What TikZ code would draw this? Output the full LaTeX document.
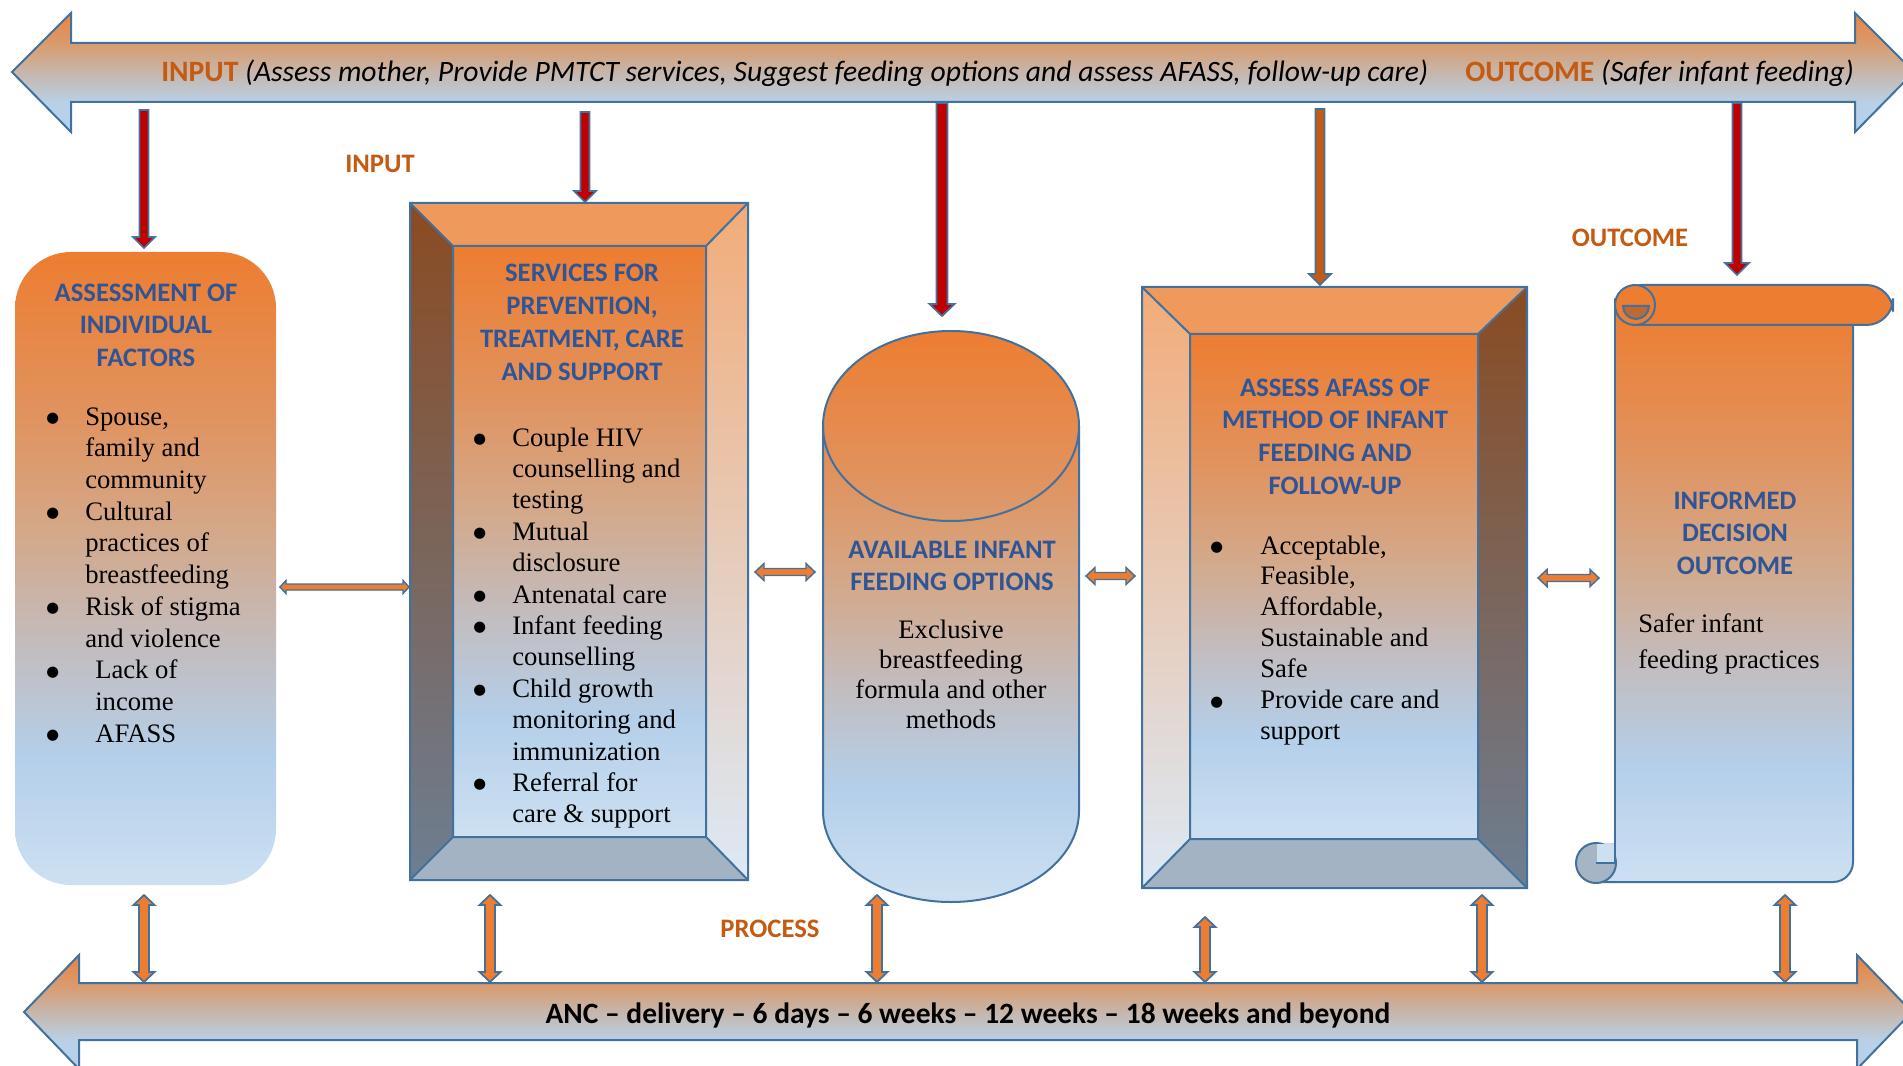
\documentclass[tikz,border=0pt]{standalone}
\usepackage{fontspec}
\setmainfont{Liberation Serif}
\newfontfamily\calfont{Carlito}
\newfontfamily\dvfont{DejaVu Sans}
\usetikzlibrary{calc}
\definecolor{ol}{HTML}{41719C}
\definecolor{ttlc}{HTML}{2F5597}
\definecolor{lblc}{HTML}{C55A11}
\definecolor{redf}{HTML}{C00000}
\definecolor{orf}{HTML}{ED7D31}
\definecolor{g0}{HTML}{CDE0F2}
\definecolor{g1}{HTML}{B4CFEA}
\definecolor{g2}{HTML}{C3BCBE}
\definecolor{g3}{HTML}{D3A98B}
\definecolor{g4}{HTML}{E1925D}
\definecolor{g5}{HTML}{ED7D31}
\definecolor{a0}{HTML}{B4D0EC}
\definecolor{a1}{HTML}{B9D1E8}
\definecolor{a2}{HTML}{C6B6AC}
\definecolor{a3}{HTML}{D99B6D}
\definecolor{a4}{HTML}{EB8240}
\definecolor{topface}{HTML}{F0995C}
\definecolor{botface}{HTML}{A3B3C4}
\definecolor{dk1}{HTML}{8A4B22}
\definecolor{dk2}{HTML}{6D7E92}
\definecolor{lt1}{HTML}{F2AC79}
\definecolor{lt2}{HTML}{DCE9F6}
\definecolor{curldark}{HTML}{BC6A35}
\definecolor{curlgrey}{HTML}{A5B5C6}
\pgfdeclareverticalshading{boxgrad}{100bp}{color(0bp)=(g0); color(25bp)=(g0); color(35bp)=(g1); color(44bp)=(g2); color(52.5bp)=(g3); color(62.5bp)=(g4); color(75bp)=(g5); color(100bp)=(g5)}
\pgfdeclareverticalshading{arrgrad}{100bp}{color(0bp)=(a0); color(25bp)=(a0); color(37bp)=(a1); color(50bp)=(a2); color(62bp)=(a3); color(75bp)=(a4); color(100bp)=(a4)}
\newcommand\ctab[1]{\begin{tabular}[t]{@{}c@{}}#1\end{tabular}}
\newcommand\ltab[1]{\begin{tabular}[t]{@{}l@{}l@{}}#1\end{tabular}}
\newcommand\bl[1]{\makebox[#1][l]{\hspace{-1.5pt}\raisebox{2pt}{\dvfont\fontsize{11}{11}\selectfont ●}}}
% down arrow: from, to, fill, shaft half width, head half width, head length (px)
\newcommand\vdn[6]{\path[draw=ol,line width=1.3pt,fill=#3] let \p1=(#1), \p2=(#2) in (\x1-#4*0.75pt,\y1) -- (\x1-#4*0.75pt,\y2+#6*0.75pt) -- (\x1-#5*0.75pt,\y2+#6*0.75pt) -- (\x1,\y2) -- (\x1+#5*0.75pt,\y2+#6*0.75pt) -- (\x1+#4*0.75pt,\y2+#6*0.75pt) -- (\x1+#4*0.75pt,\y1) -- cycle;}
\newcommand\vdbl[6]{\path[draw=ol,line width=1.3pt,fill=#3] let \p1=(#1), \p2=(#2) in (\x1,\y1) -- (\x1+#5*0.75pt,\y1-#6*0.75pt) -- (\x1+#4*0.75pt,\y1-#6*0.75pt) -- (\x1+#4*0.75pt,\y2+#6*0.75pt) -- (\x1+#5*0.75pt,\y2+#6*0.75pt) -- (\x1,\y2) -- (\x1-#5*0.75pt,\y2+#6*0.75pt) -- (\x1-#4*0.75pt,\y2+#6*0.75pt) -- (\x1-#4*0.75pt,\y1-#6*0.75pt) -- (\x1-#5*0.75pt,\y1-#6*0.75pt) -- cycle;}
\newcommand\hdbl[6]{\path[draw=ol,line width=1.1pt,fill=#3] let \p1=(#1), \p2=(#2) in (\x1,\y1) -- (\x1+#6*0.75pt,\y1+#5*0.75pt) -- (\x1+#6*0.75pt,\y1+#4*0.75pt) -- (\x2-#6*0.75pt,\y1+#4*0.75pt) -- (\x2-#6*0.75pt,\y1+#5*0.75pt) -- (\x2,\y1) -- (\x2-#6*0.75pt,\y1-#5*0.75pt) -- (\x2-#6*0.75pt,\y1-#4*0.75pt) -- (\x1+#6*0.75pt,\y1-#4*0.75pt) -- (\x1+#6*0.75pt,\y1-#5*0.75pt) -- cycle;}
\begin{document}
\begin{tikzpicture}[x=0.75pt,y=-0.75pt,
 outl/.style={draw=ol,line width=1.5pt},
 ttl/.style={font=\calfont\bfseries\fontsize{20}{24.6}\selectfont,text=ttlc,inner sep=0pt},
 lbl/.style={font=\calfont\bfseries\fontsize{20}{24}\selectfont,text=lblc,inner sep=0pt},
 grad/.style={shade,shading=boxgrad},
 agrad/.style={shade,shading=arrgrad}]
\useasboundingbox (0,0) rectangle (1903,1066);
\fill[white] (0,0) rectangle (1903,1066);

% ---------- top arrow ----------
\path[agrad,outl] (12,72) -- (71,13) -- (71,43) -- (1855,43) -- (1855,13) -- (1914,72) -- (1855,132) -- (1855,102) -- (71,102) -- (71,132) -- cycle;
\node[font=\calfont\fontsize{22.2}{26}\selectfont,inner sep=0pt,anchor=base west] (tin) at (161,82) {\textcolor{lblc}{\bfseries INPUT} \itshape (Assess mother, Provide PMTCT services, Suggest feeding options and assess AFASS, follow-up care)};
\node[font=\calfont\fontsize{22.2}{26}\selectfont,inner sep=0pt,anchor=base west] (tout) at (1465,82) {\textcolor{lblc}{\bfseries OUTCOME} \itshape (Safer infant feeding)};

% ---------- bottom arrow ----------
\path[agrad,outl] (24,1012) -- (79,955) -- (79,983) -- (1857,983) -- (1857,955) -- (1912,1012) -- (1857,1069) -- (1857,1040) -- (79,1040) -- (79,1069) -- cycle;
\node[font=\calfont\bfseries\fontsize{22.1}{26}\selectfont,inner sep=0pt,anchor=base] (tl) at (968,1023) {ANC – delivery – 6 days – 6 weeks – 12 weeks – 18 weeks and beyond};

% ---------- box 1 ----------
\path[grad,rounded corners=42] (15,252) rectangle (276,885);
\node[ttl,anchor=base] (t1) at (146,301) {\ctab{ASSESSMENT OF\\INDIVIDUAL\\FACTORS}};
\node[font=\fontsize{20}{23.8}\selectfont,inner sep=0pt,anchor=base west] (l1) at (48,425) {\ltab{\bl{27.75pt}&Spouse,\\&family and\\&community\\
\bl{27.75pt}&Cultural\\&practices of\\&breastfeeding\\
\bl{27.75pt}&Risk of stigma\\&and violence\\
\bl{27.75pt}&\hspace{7.5pt}Lack of\\&\hspace{7.5pt}income\\
\bl{27.75pt}&\hspace{7.5pt}AFASS}};

% ---------- box 2 (bevel) ----------
\fill[topface] (410,203) -- (748,203) -- (706,246) -- (453,246) -- cycle;
\shade[top color=dk1,bottom color=dk2] (410,203) -- (453,246) -- (453,837) -- (410,880) -- cycle;
\shade[top color=lt1,bottom color=lt2] (748,203) -- (748,880) -- (706,837) -- (706,246) -- cycle;
\fill[botface] (410,880) -- (453,837) -- (706,837) -- (748,880) -- cycle;
\path[grad] (453,246) rectangle (706,837);
\draw[outl] (410,203) rectangle (748,880) (453,246) rectangle (706,837) (410,203) -- (453,246) (748,203) -- (706,246) (410,880) -- (453,837) (748,880) -- (706,837);
\node[ttl,anchor=base] (t2) at (582,282) {\ctab{SERVICES FOR\\PREVENTION,\\TREATMENT, CARE\\AND SUPPORT}};
\node[font=\fontsize{20}{23.55}\selectfont,inner sep=0pt,anchor=base west] (l2) at (475,446) {\ltab{\bl{27.75pt}&Couple HIV\\&counselling and\\&testing\\
\bl{27.75pt}&Mutual\\&disclosure\\
\bl{27.75pt}&Antenatal care\\
\bl{27.75pt}&Infant feeding\\&counselling\\
\bl{27.75pt}&Child growth\\&monitoring and\\&immunization\\
\bl{27.75pt}&Referral for\\&care \& support}};

% ---------- cylinder ----------
\path[grad] (823,426) arc[start angle=180,end angle=360,x radius=128,y radius=95] -- (1079,811) arc[start angle=0,end angle=180,x radius=128,y radius=91] -- cycle;
\draw[outl] (823,426) -- (823,811) arc[start angle=180,end angle=0,x radius=128,y radius=91] -- (1079,426);
\draw[outl] (951,426) ellipse[x radius=128,y radius=95];
\node[ttl,anchor=base] (t3) at (952,558) {\ctab{AVAILABLE INFANT\\FEEDING OPTIONS}};
\node[font=\fontsize{20}{22.7}\selectfont,inner sep=0pt,anchor=base] (c3) at (951,638) {\ctab{Exclusive\\breastfeeding\\formula and other\\methods}};

% ---------- box 4 (bevel, mirrored) ----------
\fill[topface] (1142,287) -- (1527,287) -- (1478,334) -- (1190,334) -- cycle;
\shade[top color=lt1,bottom color=lt2] (1142,287) -- (1190,334) -- (1190,839) -- (1142,888) -- cycle;
\shade[top color=dk1,bottom color=dk2] (1527,287) -- (1527,888) -- (1478,839) -- (1478,334) -- cycle;
\fill[botface] (1142,888) -- (1190,839) -- (1478,839) -- (1527,888) -- cycle;
\path[grad] (1190,334) rectangle (1478,839);
\draw[outl] (1142,287) rectangle (1527,888) (1190,334) rectangle (1478,839) (1142,287) -- (1190,334) (1527,287) -- (1478,334) (1142,888) -- (1190,839) (1527,888) -- (1478,839);
\node[ttl,anchor=base] (t4) at (1335,396) {\ctab{ASSESS AFASS OF\\METHOD OF INFANT\\FEEDING AND\\FOLLOW-UP}};
\node[font=\fontsize{20}{23.2}\selectfont,inner sep=0pt,anchor=base west] (l4) at (1212,554) {\ltab{\bl{36pt}&Acceptable,\\&Feasible,\\&Affordable,\\&Sustainable and\\&Safe\\
\bl{36pt}&Provide care and\\&support}};

% ---------- scroll ----------
\path[grad] (1615,305) -- (1853,305) -- (1853,862) arc[start angle=0,end angle=90,radius=20] -- (1596,882) -- (1596,843) -- (1615,843) -- cycle;
\draw[outl] (1615,305) -- (1615,843);
\draw[outl] (1853,325) -- (1853,862) arc[start angle=0,end angle=90,radius=20] -- (1596,882);
\path[fill=orf,outl,rounded corners=20] (1615,285) rectangle (1893,325);
\path[fill=orf,outl] (1635,305) circle[radius=20];
\path[fill=curldark,outl] (1623,306) -- (1649,306) arc[start angle=0,end angle=180,radius=13] -- cycle;
\path[fill=curlgrey,outl] (1596,863) circle[radius=20];
\fill[g0] (1597,844) rectangle (1614,862);
\draw[outl] (1596,863) -- (1615,863);
\draw[outl] (1615,843) -- (1615,863);
\node[ttl,anchor=base] (t5) at (1735,509) {\ctab{INFORMED\\DECISION\\OUTCOME}};
\node[font=\fontsize{20}{27}\selectfont,inner sep=0pt,anchor=base west] (c5) at (1638,632) {\begin{tabular}[t]{@{}l@{}}Safer infant\\feeding practices\end{tabular}};

% ---------- labels ----------
\node[lbl,anchor=base] (lin) at (380,173) {INPUT};
\node[lbl,anchor=base] (lout) at (1630,247) {OUTCOME};
\node[lbl,anchor=base] (lproc) at (770,937) {PROCESS};

% ---------- top down arrows ----------
\coordinate (r1a) at (144,110); \coordinate (r1b) at (144,248);
\coordinate (r2a) at (585,112); \coordinate (r2b) at (585,202);
\coordinate (r3a) at (942,103); \coordinate (r3b) at (942,316);
\coordinate (r4a) at (1320,109); \coordinate (r4b) at (1320,285);
\coordinate (r5a) at (1737,103); \coordinate (r5b) at (1737,275);
\vdn{r1a}{r1b}{redf}{4.5}{11}{11}
\vdn{r2a}{r2b}{redf}{4.5}{11}{11}
\vdn{r3a}{r3b}{redf}{5.5}{12.5}{12}
\vdn{r4a}{r4b}{lblc}{4.5}{11}{11}
\vdn{r5a}{r5b}{redf}{4.5}{12}{12}

% ---------- horizontal double arrows ----------
\coordinate (h1a) at (280,587); \coordinate (h1b) at (409,587);
\coordinate (h2a) at (755,572); \coordinate (h2b) at (815,572);
\coordinate (h3a) at (1086,576); \coordinate (h3b) at (1135,576);
\coordinate (h4a) at (1538,578); \coordinate (h4b) at (1599,578);
\hdbl{h1a}{h1b}{orf}{3}{6.5}{6}
\hdbl{h2a}{h2b}{orf}{3.5}{8.5}{9}
\hdbl{h3a}{h3b}{orf}{3.5}{8.5}{9}
\hdbl{h4a}{h4b}{orf}{3.5}{8.5}{9}

% ---------- bottom vertical double arrows ----------
\coordinate (v1a) at (144,895); \coordinate (v1b) at (144,982);
\coordinate (v2a) at (490,895); \coordinate (v2b) at (490,982);
\coordinate (v3a) at (877,895); \coordinate (v3b) at (877,982);
\coordinate (v4a) at (1205,917); \coordinate (v4b) at (1205,982);
\coordinate (v5a) at (1482,895); \coordinate (v5b) at (1482,982);
\coordinate (v6a) at (1785,895); \coordinate (v6b) at (1785,982);
\vdbl{v1a}{v1b}{orf}{5}{10.5}{10}
\vdbl{v2a}{v2b}{orf}{5}{10.5}{10}
\vdbl{v3a}{v3b}{orf}{5}{10.5}{10}
\vdbl{v4a}{v4b}{orf}{5}{10.5}{10}
\vdbl{v5a}{v5b}{orf}{5}{10.5}{10}
\vdbl{v6a}{v6b}{orf}{5}{10.5}{10}
\end{tikzpicture}
\end{document}
